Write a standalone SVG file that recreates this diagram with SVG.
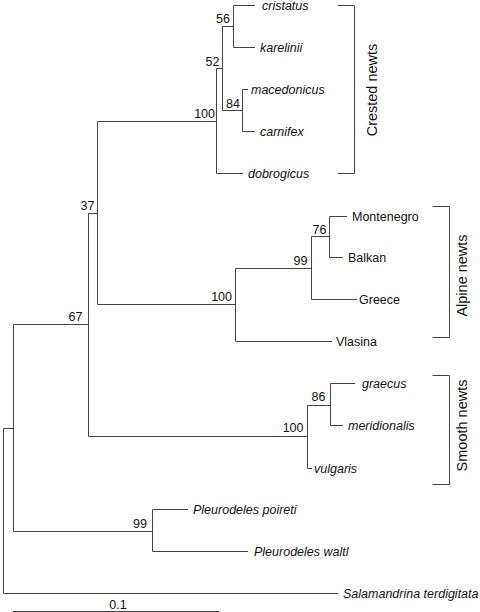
<svg xmlns="http://www.w3.org/2000/svg" width="480" height="612" viewBox="0 0 480 612">
<style>
.br{fill:none;stroke:#444;stroke-width:1}
.tx{font-family:"Liberation Sans",Arial,sans-serif;font-size:12.5px;fill:#111}
.it{font-style:italic}
.sp{text-anchor:end}
.cl{font-family:"Liberation Sans",Arial,sans-serif;font-size:14.5px;fill:#111;text-anchor:middle}
</style>
<rect width="480" height="612" fill="#fff"/>
<g id="connectors" class="br">
<path d="M3.5,428.5V593.5M3.5,428.5H13.5M3.5,593.5H338"/>
<path d="M13.5,324.5V531.5M13.5,531.5H152.5M152.5,509.5V551.5M152.5,509.5H188M152.5,551.5H248"/>
<path d="M13.5,324.5H88.5M88.5,213.5V436.5M88.5,213.5H97.5M97.5,121.5V304.5"/>
<path d="M97.5,121.5H216.5M216.5,68.5V173.5M216.5,68.5H222.5M222.5,26.5V110.5M222.5,26.5H233.5M233.5,5.5V47.5M233.5,5.5H255M233.5,47.5H255M222.5,110.5H242.5M242.5,89.5V131.5M242.5,89.5H248M242.5,131.5H255M216.5,173.5H243"/>
<path d="M97.5,304.5H235.5M235.5,268.5V341.5M235.5,268.5H311.5M311.5,236.5V299.5M311.5,236.5H329.5M329.5,216.5V257.5M329.5,216.5H347M329.5,257.5H343M311.5,299.5H357M235.5,341.5H332"/>
<path d="M88.5,436.5H307.5M307.5,405.5V468.5M307.5,405.5H330.5M330.5,383.5V425.5M330.5,383.5H355M330.5,425.5H343M307.5,468.5H312"/>
<path d="M13,611.5H219"/>
</g>
<g id="tip-cristatus"><text class="tx it" x="262" y="9.5">cristatus</text></g>
<g id="tip-karelinii"><text class="tx it" x="260" y="51.5">karelinii</text></g>
<g id="tip-macedonicus"><text class="tx it" x="251" y="93.5">macedonicus</text></g>
<g id="tip-carnifex"><text class="tx it" x="260" y="135.5">carnifex</text></g>
<g id="tip-dobrogicus"><text class="tx it" x="248" y="177.5">dobrogicus</text></g>
<g id="tip-montenegro"><text class="tx" x="352" y="220.5">Montenegro</text></g>
<g id="tip-balkan"><text class="tx" x="348" y="261.5">Balkan</text></g>
<g id="tip-greece"><text class="tx" x="359" y="303.5">Greece</text></g>
<g id="tip-vlasina"><text class="tx" x="336" y="345.5">Vlasina</text></g>
<g id="tip-graecus"><text class="tx it" x="362" y="387.5">graecus</text></g>
<g id="tip-meridionalis"><text class="tx it" x="348" y="429.5">meridionalis</text></g>
<g id="tip-vulgaris"><text class="tx it" x="314" y="472.5">vulgaris</text></g>
<g id="tip-poireti"><text class="tx it" x="193" y="513.5">Pleurodeles poireti</text></g>
<g id="tip-waltl"><text class="tx it" x="254" y="555.5">Pleurodeles waltl</text></g>
<g id="tip-salamandrina"><text class="tx it" x="343" y="597.5">Salamandrina terdigitata</text></g>
<g id="node-56"><text class="tx sp" x="230" y="23">56</text></g>
<g id="node-52"><text class="tx sp" x="219.5" y="66">52</text></g>
<g id="node-84"><text class="tx sp" x="240" y="107.5">84</text></g>
<g id="node-100-crested"><text class="tx sp" x="215" y="118">100</text></g>
<g id="node-37"><text class="tx sp" x="94.5" y="210">37</text></g>
<g id="node-76"><text class="tx sp" x="326.5" y="233.5">76</text></g>
<g id="node-99-alpine"><text class="tx sp" x="307.5" y="264.5">99</text></g>
<g id="node-100-alpine"><text class="tx sp" x="232" y="301">100</text></g>
<g id="node-67"><text class="tx sp" x="82.5" y="321">67</text></g>
<g id="node-86"><text class="tx sp" x="325.5" y="401">86</text></g>
<g id="node-100-smooth"><text class="tx sp" x="303.5" y="432">100</text></g>
<g id="node-99-pleurodeles"><text class="tx sp" x="147" y="527.5">99</text></g>
<g id="scale-bar"><text class="tx" x="118" y="608.5" text-anchor="middle">0.1</text></g>
<g id="bracket-crested">
<path class="br" d="M338,5.5H354.5V173.5H338"/>
<text class="cl" transform="translate(376.5,90) rotate(-90)">Crested newts</text>
</g>
<g id="bracket-alpine">
<path class="br" d="M432.5,206.5H449.5V337.5H432.5"/>
<text class="cl" transform="translate(466.5,275.5) rotate(-90)">Alpine newts</text>
</g>
<g id="bracket-smooth">
<path class="br" d="M432.5,375.5H449.5V484.5H432.5"/>
<text class="cl" transform="translate(467,425.5) rotate(-90)">Smooth newts</text>
</g>
</svg>
